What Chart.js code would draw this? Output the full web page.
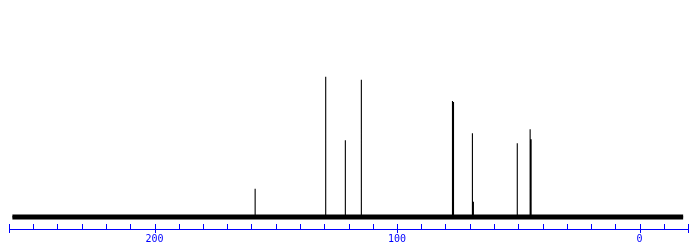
<!DOCTYPE html>
<html>
<head>
<meta charset="utf-8">
<script src="https://cdn.jsdelivr.net/npm/chart.js@4.4.1/dist/chart.umd.min.js"></script>
<style>
html,body{margin:0;padding:0;background:#fff;}
canvas{display:block;}
</style>
</head>
<body>
<canvas id="c" width="697" height="246"></canvas>
<script>
// chemical shifts (ppm) and heights of the peaks
const peakPpm    = [158.5, 129.4, 121.3, 114.7, 77.3, 77.0, 76.7, 68.9, 68.5, 50.4, 45.1, 44.7];
const peakHeight = [28,    139,   76,    136,   112,  115,  114,  83,   15,   73,   87,   77];
// recorded spectral window (ppm)
const spectrumStart = 258.6;
const spectrumEnd = -18.0;
// axis range and labelled ticks
const axisMax = 260;
const axisMin = -20;
const tickStep = 10;
const labelledTicks = [0, 100, 200];

const BLUE = '#0000ff';

const sticks = [];
sticks.push({x: spectrumStart, y: 0});
peakPpm.forEach((p, i) => {
  sticks.push({x: p, y: 0});
  sticks.push({x: p, y: peakHeight[i]});
  sticks.push({x: p, y: 0});
});
sticks.push({x: spectrumEnd, y: 0});

const baseline = [{x: spectrumStart, y: 0}, {x: spectrumEnd, y: 0}];

const tickPlugin = {
  id: 'nmrTicks',
  afterDraw(chart) {
    const s = chart.scales.x;
    const ctx = chart.ctx;
    const yb = s.top;
    ctx.save();
    ctx.strokeStyle = BLUE;
    ctx.lineWidth = 1;
    s.ticks.forEach(t => {
      const x = Math.round(s.getPixelForValue(t.value)) + 0.5;
      const major = labelledTicks.includes(t.value) || t.value === axisMin || t.value === axisMax;
      ctx.beginPath();
      ctx.moveTo(x, yb - 5);
      ctx.lineTo(x, major ? yb + 4 : yb);
      ctx.stroke();
    });
    ctx.restore();
  }
};

new Chart(document.getElementById('c'), {
  type: 'line',
  data: {
    datasets: [
      {data: baseline, borderColor: '#000', borderWidth: 5, pointRadius: 0, borderCapStyle: 'butt'},
      {data: sticks, borderColor: '#000', borderWidth: 1.1, pointRadius: 0}
    ]
  },
  options: {
    responsive: false,
    animation: false,
    devicePixelRatio: 1,
    layout: {padding: {left: 9, right: 9, top: 0, bottom: -3}},
    plugins: {legend: {display: false}, tooltip: {enabled: false}},
    scales: {
      x: {
        type: 'linear',
        reverse: true,
        min: axisMin,
        max: axisMax,
        grid: {display: false, drawTicks: false},
        border: {display: true, color: BLUE, width: 1},
        ticks: {
          stepSize: tickStep,
          autoSkip: false,
          maxRotation: 0,
          padding: 4,
          color: BLUE,
          font: {family: 'DejaVu Sans Mono', size: 10},
          callback: v => labelledTicks.includes(v) ? String(v) : ''
        }
      },
      y: {display: false, min: -12, max: 215}
    }
  },
  plugins: [tickPlugin]
});
</script>
</body>
</html>
